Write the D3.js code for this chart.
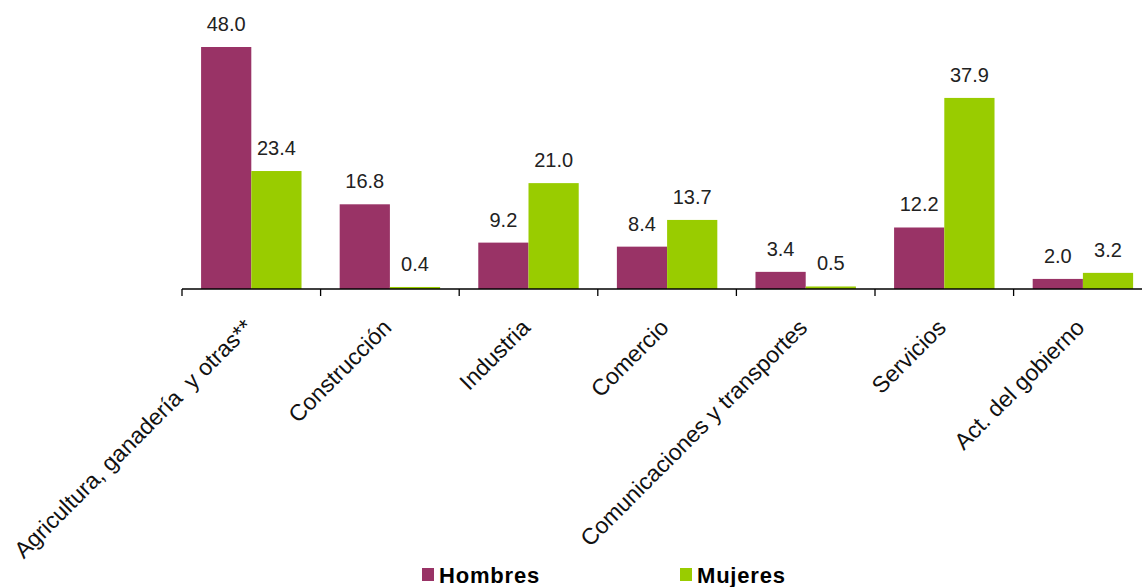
<!DOCTYPE html>
<html>
<head>
<meta charset="utf-8">
<script src="https://cdn.jsdelivr.net/npm/d3@7"></script>
<style>
  body { margin: 0; background: #fff; }
  text { font-family: Arial, "Liberation Sans", sans-serif; }
</style>
</head>
<body>
<div id="chart"></div>
<script>
// Data
let categories = ["Agricultura, ganadería  y otras**", "Construcción", "Industria", "Comercio",
                  "Comunicaciones y transportes", "Servicios", "Act. del gobierno"];
let series = ["Hombres", "Mujeres"];
let hombres = [48.0, 16.8, 9.2, 8.4, 3.4, 12.2, 2.0];
let mujeres = [23.4, 0.4, 21.0, 13.7, 0.5, 37.9, 3.2];
let colors = ["#993366", "#99CC00"];

let width = 1142, height = 587;
let svg = d3.select("#chart")
  .append("svg")
    .attr("width", width)
    .attr("height", height);

let rows = categories.map((c, i) => ({cat: c, values: [hombres[i], mujeres[i]]}));

// X scales
let x0 = d3.scaleBand()
  .domain(categories)
  .range([182, 182 + 7 * 138.6]);
let x1 = d3.scaleBand()
  .domain(series)
  .range([0, x0.bandwidth()])
  .paddingOuter(0.38);

// Y scale
let y = d3.scaleLinear()
  .domain([0, 48])
  .range([289, 47]);

// bars
let groups = svg.append("g")
  .selectAll("g")
  .data(rows)
  .enter()
  .append("g")
    .attr("transform", d => "translate(" + x0(d.cat) + ",0)");

groups.selectAll("rect")
  .data(d => d.values.map((v, i) => ({s: series[i], v: v, i: i})))
  .enter()
  .append("rect")
    .attr("x", d => x1(d.s))
    .attr("width", x1.bandwidth())
    .attr("y", d => y(d.v))
    .attr("height", d => y(0) - y(d.v))
    .attr("fill", d => colors[d.i]);

// value labels
groups.selectAll("text")
  .data(d => d.values.map((v, i) => ({s: series[i], v: v})))
  .enter()
  .append("text")
    .attr("x", d => x1(d.s) + x1.bandwidth() / 2)
    .attr("y", d => y(d.v) - 16)
    .attr("text-anchor", "middle")
    .style("font-size", "20px")
    .style("fill", "#222")
    .text(d => d.v.toFixed(1));

// X axis
let axis = svg.append("g")
  .attr("transform", "translate(0," + y(0) + ")");
axis.append("line")
  .attr("x1", x0.range()[0])
  .attr("x2", width)
  .attr("stroke", "#000")
  .attr("stroke-width", 1.3);
axis.selectAll(".tick")
  .data(categories)
  .enter()
  .append("line")
    .attr("x1", d => x0(d))
    .attr("x2", d => x0(d))
    .attr("y1", 0)
    .attr("y2", 7)
    .attr("stroke", "#000")
    .attr("stroke-width", 1.3);
axis.selectAll(".lab")
  .data(categories)
  .enter()
  .append("text")
    .attr("transform", d => "translate(" + (x0(d) + x0.bandwidth() / 2 + 3) + ",40) rotate(-45)")
    .attr("text-anchor", "end")
    .style("font-size", "23px")
    .style("white-space", "pre")
    .style("fill", "#111")
    .text(d => d);

// Legend
let legendX = [422, 680];
let legend = svg.append("g")
  .selectAll("g")
  .data(series)
  .enter()
  .append("g")
    .attr("transform", (d, i) => "translate(" + legendX[i] + ",568)");
legend.append("rect")
  .attr("width", 12)
  .attr("height", 13)
  .attr("fill", (d, i) => colors[i]);
legend.append("text")
  .attr("x", 17)
  .attr("y", 15)
  .style("font-size", "22px")
  .style("font-weight", "bold")
  .style("letter-spacing", "0.8px")
  .style("fill", "#000")
  .text(d => d);
</script>
</body>
</html>
